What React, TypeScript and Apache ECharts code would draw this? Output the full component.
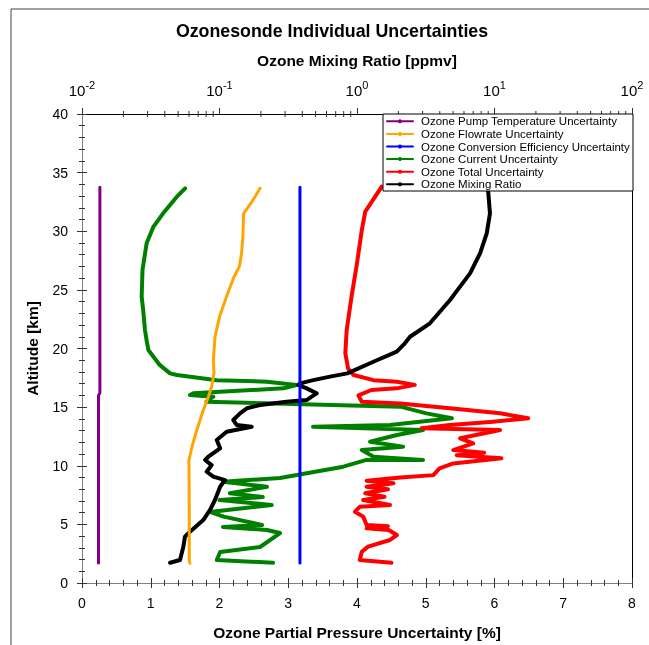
import React, { useEffect, useRef } from "react";
import * as echarts from "echarts";

// Tick / axis values
const bottomTicks = [0, 1, 2, 3, 4, 5, 6, 7, 8];
const altitudeTicks = [0, 5, 10, 15, 20, 25, 30, 35, 40];
const topMinorTicks = [
  0.02, 0.03, 0.04, 0.05, 0.06, 0.07, 0.08, 0.09,
  0.2, 0.3, 0.4, 0.5, 0.6, 0.7, 0.8, 0.9,
  2, 3, 4, 5, 6, 7, 8, 9,
  20, 30, 40, 50, 60, 70, 80, 90,
];

const seriesNames = [
  "Ozone Pump Temperature Uncertainty",
  "Ozone Flowrate Uncertainty",
  "Ozone Conversion Efficiency Uncertainty",
  "Ozone Current Uncertainty",
  "Ozone Total Uncertainty",
  "Ozone Mixing Ratio",
];
const seriesColors = ["#800080", "#FFA500", "#0000FF", "#008000", "#FF0000", "#000000"];

// [uncertainty %, altitude km]
const pumpTemperature = [[0.24, 1.7], [0.24, 16.0], [0.26, 16.2], [0.26, 33.75]];
const conversionEfficiency = [[3.17, 1.7], [3.17, 33.75]];
const flowrate = [
  [1.57, 1.68], [1.56, 1.96], [1.56, 6.0], [1.556, 10.49], [1.6, 11.62], [1.67, 13.05],
  [1.765, 14.75], [1.84, 15.9], [1.886, 16.74], [1.92, 17.88], [1.91, 19.0], [1.935, 21.0],
  [2.0, 22.7], [2.1, 24.4], [2.21, 26.1], [2.29, 27.0], [2.32, 28.1], [2.34, 29.5],
  [2.35, 31.5], [2.47, 32.5], [2.59, 33.66],
];
const current = [
  [2.78, 1.73], [1.96, 1.96], [2.01, 2.64], [2.59, 3.07], [2.88, 4.26], [2.69, 4.52],
  [2.05, 4.78], [2.62, 4.95], [2.06, 5.66], [1.86, 6.06], [2.76, 6.65], [2.0, 7.08],
  [2.63, 7.33], [2.15, 7.65], [2.69, 8.21], [2.05, 8.64], [2.88, 8.95], [3.8, 9.92],
  [4.14, 10.5], [4.96, 10.5], [4.24, 10.77], [4.07, 11.34], [4.67, 11.63], [4.19, 12.05],
  [4.58, 12.62], [4.96, 13.05], [3.36, 13.33], [4.48, 13.48], [5.38, 14.05], [5.01, 14.47],
  [4.63, 15.04], [1.81, 15.46], [1.91, 15.89], [1.57, 16.03], [1.62, 16.18], [2.93, 16.6],
  [3.12, 16.89], [2.69, 17.17], [1.96, 17.3], [1.38, 17.74], [1.28, 17.88], [1.13, 18.6],
  [0.965, 19.87], [0.94, 20.7], [0.916, 21.58], [0.89, 23.28], [0.868, 24.42], [0.88, 26.7],
  [0.94, 28.97], [1.04, 30.4], [1.18, 31.53], [1.38, 32.95], [1.5, 33.66],
];
const total = [
  [4.5, 1.73], [4.04, 1.96], [4.07, 2.67], [4.16, 3.1], [4.48, 3.67], [4.58, 4.09],
  [4.46, 4.52], [4.14, 4.66], [4.45, 4.85], [4.14, 4.95], [4.09, 5.66], [3.97, 6.08],
  [4.04, 6.5], [4.48, 6.65], [4.09, 7.08], [4.4, 7.36], [4.12, 7.65], [4.45, 8.0],
  [4.14, 8.21], [4.53, 8.5], [4.14, 8.73], [4.63, 9.0], [5.11, 9.2], [5.2, 9.78],
  [5.4, 10.2], [6.1, 10.63], [5.45, 10.9], [5.85, 11.1], [5.4, 11.34], [5.69, 11.9],
  [5.5, 12.34], [6.08, 13.05], [4.94, 13.2], [5.35, 13.47], [5.98, 13.76], [6.49, 14.05],
  [6.08, 14.47], [5.35, 14.9], [4.63, 15.3], [4.07, 15.46], [4.02, 16.0], [4.21, 16.46],
  [4.58, 16.6], [4.84, 16.9], [4.58, 17.17], [4.24, 17.3], [3.95, 17.74], [3.87, 18.3],
  [3.83, 19.6], [3.85, 21.58], [3.92, 24.4], [4.0, 27.27], [4.07, 30.1], [4.12, 31.67],
  [4.36, 33.8],
];
// [mixing ratio ppmv, altitude km]
const mixingRatio = [
  [0.0437, 1.73], [0.0516, 1.96], [0.0546, 3.1], [0.0561, 3.95], [0.061, 4.38], [0.0762, 5.37],
  [0.0853, 6.23], [0.0927, 7.08], [0.101, 8.21], [0.1097, 8.78], [0.0901, 9.07], [0.0807, 9.49],
  [0.0877, 10.06], [0.0786, 10.49], [0.083, 10.77], [0.101, 11.49], [0.0955, 12.2], [0.1127, 12.9],
  [0.1713, 13.33], [0.1333, 13.48], [0.126, 13.9], [0.141, 14.47], [0.158, 14.9], [0.197, 15.18],
  [0.308, 15.46], [0.43, 15.6], [0.468, 15.89], [0.509, 16.18], [0.43, 16.6], [0.374, 16.89],
  [0.385, 17.03], [0.481, 17.3], [0.637, 17.6], [0.85, 17.88], [1.316, 18.87], [1.945, 19.73],
  [2.23, 20.44], [2.43, 21.0], [3.39, 22.15], [4.75, 24.14], [5.16, 24.7], [6.64, 26.41],
  [7.85, 28.12], [8.78, 29.82], [9.27, 31.53], [9.02, 33.24], [8.9, 33.7],
];

const FONT = "Liberation Sans, Arial, sans-serif";
const GRID = { left: 82, top: 114, width: 550, height: 469 };

export default function App() {
  const ref = useRef<HTMLDivElement>(null);
  useEffect(() => {
    const chart = echarts.init(ref.current!, null, { renderer: "svg" });
    const datasets = [pumpTemperature, flowrate, conversionEfficiency, current, total, mixingRatio];
    const zs = [4, 4, 6, 2, 2, 3];
    const widths = [3, 3, 3, 4, 4, 4];
    const lineSeries = datasets.map((d, i) => ({
      type: "line",
      name: seriesNames[i],
      data: d,
      xAxisIndex: i === 5 ? 1 : 0,
      yAxisIndex: 0,
      showSymbol: false,
      symbol: "circle",
      symbolSize: 4,
      color: seriesColors[i],
      lineStyle: { color: seriesColors[i], width: widths[i], join: "round", cap: "round" },
      z: zs[i],
      clip: true,
    }));
    const option: any = {
      animation: false,
      textStyle: { fontFamily: FONT },
      grid: [
        { ...GRID, containLabel: false },
        { ...GRID, containLabel: false },
      ],
      xAxis: [
        {
          gridIndex: 0,
          type: "value",
          position: "bottom",
          min: bottomTicks[0],
          max: bottomTicks[bottomTicks.length - 1],
          interval: 1,
          splitLine: { show: false },
          axisLine: { lineStyle: { color: "#808080", width: 1 } },
          axisTick: { length: 5, lineStyle: { color: "#333" } },
          minorTick: { show: true, splitNumber: 5, length: 3, lineStyle: { color: "#333" } },
          axisLabel: { fontSize: 14, color: "#000", margin: 13, fontFamily: FONT },
          name: "Ozone Partial Pressure Uncertainty [%]",
          nameLocation: "middle",
          nameGap: 41,
          nameTextStyle: { fontSize: 15.5, fontWeight: "bold", color: "#000", fontFamily: FONT },
        },
        {
          gridIndex: 0,
          type: "log",
          logBase: 10,
          position: "top",
          min: 0.01,
          max: 100,
          splitNumber: 4,
          splitLine: { show: false },
          axisLine: { lineStyle: { color: "#000", width: 1 } },
          axisTick: { length: 6, lineStyle: { color: "#333" } },
          axisLabel: {
            margin: 16,
            formatter: (v: number) => `{b|10}{s|${Math.round(Math.log10(v))}}`,
            rich: {
              b: { fontSize: 15, lineHeight: 19, verticalAlign: "bottom", color: "#000", fontFamily: FONT },
              s: { fontSize: 11, lineHeight: 11, verticalAlign: "top", color: "#000", fontFamily: FONT },
            },
          },
          name: "Ozone Mixing Ratio [ppmv]",
          nameLocation: "middle",
          nameGap: 46,
          nameTextStyle: { fontSize: 15.5, fontWeight: "bold", color: "#000", fontFamily: FONT },
        },
        {
          gridIndex: 1,
          type: "value",
          position: "bottom",
          min: 0,
          max: 8,
          interval: 1,
          splitLine: { show: false },
          axisLine: { show: false },
          axisTick: { inside: true, length: 5, lineStyle: { color: "#333" } },
          minorTick: { show: true, splitNumber: 5, length: 3, lineStyle: { color: "#333" } },
          axisLabel: { show: false },
        },
        {
          gridIndex: 1,
          type: "log",
          logBase: 10,
          position: "top",
          min: 0.01,
          max: 100,
          splitNumber: 4,
          splitLine: { show: false },
          axisLine: { show: false },
          axisTick: { inside: true, length: 4, lineStyle: { color: "#333" } },
          axisLabel: { show: false },
        },
      ],
      yAxis: [
        {
          gridIndex: 0,
          type: "value",
          position: "left",
          min: altitudeTicks[0],
          max: altitudeTicks[altitudeTicks.length - 1],
          interval: 5,
          splitLine: { show: false },
          axisLine: { lineStyle: { color: "#808080", width: 1 } },
          axisTick: { length: 5, lineStyle: { color: "#333" } },
          minorTick: { show: true, splitNumber: 5, length: 3, lineStyle: { color: "#333" } },
          axisLabel: { fontSize: 14, color: "#000", margin: 14, fontFamily: FONT },
          name: "Altitude [km]",
          nameLocation: "middle",
          nameGap: 42,
          nameTextStyle: { fontSize: 15.5, fontWeight: "bold", color: "#000", fontFamily: FONT },
        },
        {
          gridIndex: 1,
          type: "value",
          position: "left",
          min: 0,
          max: 40,
          interval: 5,
          splitLine: { show: false },
          axisLine: { show: false },
          axisTick: { inside: true, length: 5, lineStyle: { color: "#333" } },
          minorTick: { show: true, splitNumber: 5, length: 3, lineStyle: { color: "#333" } },
          axisLabel: { show: false },
        },
        {
          gridIndex: 1,
          type: "value",
          position: "right",
          min: 0,
          max: 40,
          splitLine: { show: false },
          axisLine: { show: true, lineStyle: { color: "#000", width: 1 } },
          axisTick: { show: false },
          axisLabel: { show: false },
        },
      ],
      legend: {
        data: seriesNames,
        orient: "vertical",
        left: 383,
        top: 114,
        padding: [1, 0, 0, 3],
        itemWidth: 26,
        itemHeight: 5,
        itemGap: 0,
        z: 20,
        textStyle: { fontSize: 11.5, color: "#000", lineHeight: 12.6, fontFamily: FONT, padding: [0, 0, 0, 3] },
      },
      graphic: [
        {
          type: "rect",
          shape: { x: 11, y: 9, width: 700, height: 700 },
          style: { fill: "none", stroke: "#444", lineWidth: 1 },
          z: 0,
        },
        {
          type: "rect",
          shape: { x: 383, y: 114, width: 250, height: 77 },
          style: { fill: "#fff", stroke: "#000", lineWidth: 1 },
          z: 10,
        },
        {
          type: "text",
          x: 332,
          y: 31,
          style: {
            text: "Ozonesonde Individual Uncertainties",
            fontSize: 17.8,
            fontWeight: "bold",
            fontFamily: FONT,
            fill: "#000",
            align: "center",
            verticalAlign: "middle",
          },
          z: 10,
        },
      ],
      series: [
        ...lineSeries,
        {
          type: "custom",
          name: "topMinorTicks",
          xAxisIndex: 1,
          yAxisIndex: 0,
          clip: false,
          silent: true,
          z: 1,
          data: topMinorTicks.map((v) => [v, 40]),
          renderItem: (params: any, api: any) => {
            const p = api.coord([api.value(0), api.value(1)]);
            return {
              type: "line",
              shape: { x1: p[0], y1: p[1] - 3, x2: p[0], y2: p[1] + 3 },
              style: { stroke: "#333", lineWidth: 1 },
            };
          },
        },
      ],
    };
    chart.setOption(option);
    return () => chart.dispose();
  }, []);
  return <div ref={ref} style={{ position: "fixed", left: 0, top: 0, width: 649, height: 645 }} />;
}
